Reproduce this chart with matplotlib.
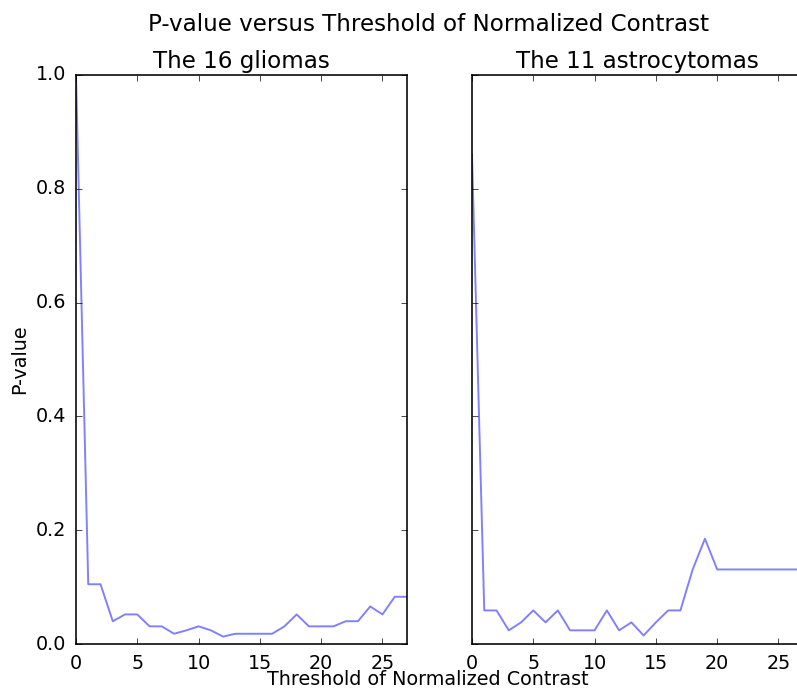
import numpy as np
import matplotlib
matplotlib.use('Agg')
import matplotlib.pyplot as plt

# p-values per threshold of normalized contrast
threshold = np.arange(0, 28)
pval_gliomas = [1.0, 0.105, 0.105, 0.040, 0.052, 0.052, 0.031, 0.031, 0.018, 0.024,
                0.031, 0.024, 0.013, 0.018, 0.018, 0.018, 0.018, 0.031, 0.052, 0.031,
                0.031, 0.031, 0.040, 0.040, 0.066, 0.052, 0.083, 0.083]
pval_astro = [0.86, 0.059, 0.059, 0.024, 0.038, 0.059, 0.038, 0.059, 0.024, 0.024,
              0.024, 0.059, 0.024, 0.038, 0.015, 0.038, 0.059, 0.059, 0.131, 0.185,
              0.131, 0.131, 0.131, 0.131, 0.131, 0.131, 0.131, 0.131]
titles = ['The 16 gliomas', 'The 11 astrocytomas']

plt.style.use('classic')
s = 1.15
plt.rcParams.update({'font.size': 12*s,
                     'xtick.major.size': 4*s, 'ytick.major.size': 4*s,
                     'xtick.major.pad': 6*s, 'ytick.major.pad': 6*s,
                     'axes.linewidth': 1.0*s})
fig = plt.figure(figsize=(7.97, 6.88), dpi=100, facecolor='white')
W, H = 797.0, 688.0
ax1 = fig.add_axes([76/W, 44/H, 331/W, 569/H])
ax2 = fig.add_axes([472/W, 44/H, 331/W, 569/H], sharey=ax1)

for ax, pv, tt in zip([ax1, ax2], [pval_gliomas, pval_astro], titles):
    ax.plot(threshold, pv, color='b', alpha=0.5, lw=1.2*s)
    ax.set_xlim(0, 27)
    ax.set_ylim(0, 1.0)
    ax.set_xticks([0, 5, 10, 15, 20, 25])
    ax.set_title(tt, fontsize=14.4*s)

ax1.set_yticks([0.0, 0.2, 0.4, 0.6, 0.8, 1.0])
ax1.set_ylabel('P-value')
plt.setp(ax2.get_yticklabels(), visible=False)

fig.suptitle('P-value versus Threshold of Normalized Contrast', x=428.5/W, y=1-13/H,
             fontsize=14.4*s)
fig.text(428/W, 1-679.5/H, 'Threshold of Normalized Contrast', ha='center', va='center',
         fontsize=12*s)

fig.savefig('out.png', dpi=100, facecolor='white')
